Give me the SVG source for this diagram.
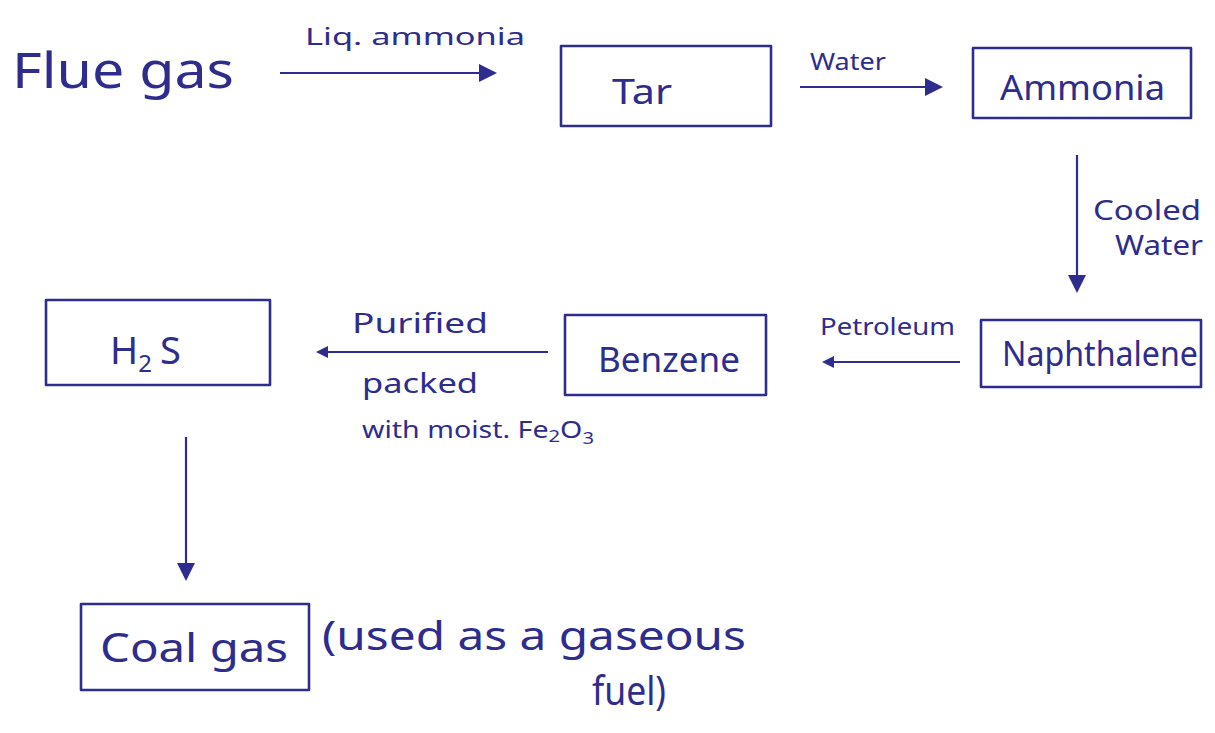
<svg xmlns="http://www.w3.org/2000/svg" width="1215" height="733" viewBox="0 0 1215 733">
<style>
  .bg{fill:#ffffff}
  .box{fill:none;stroke:#2e2c8c;stroke-width:2.6;stroke-linejoin:round}
  .ln{fill:none;stroke:#2e2c8c;stroke-width:2.2}
  .t{font-family:"Noto Sans","Liberation Sans",sans-serif;fill:#2e2c8c}
  .big{font-size:34px}
  .mid{font-size:28px}
  .sm{font-size:24px}
</style>
<defs>
  <marker id="ah" viewBox="0 0 12 12" refX="10" refY="6" markerWidth="12" markerHeight="12" markerUnits="userSpaceOnUse" orient="auto">
    <path d="M0,0 L12,6 L0,12 Z" fill="#2e2c8c"/>
  </marker>
  <marker id="ahb" viewBox="0 0 12 12" refX="10" refY="6" markerWidth="18" markerHeight="18" markerUnits="userSpaceOnUse" orient="auto">
    <path d="M0,0 L12,6 L0,12 Z" fill="#2e2c8c"/>
  </marker>
</defs>
<rect class="bg" x="0" y="0" width="1215" height="733"/>

<g id="connectors">
  <line class="ln" x1="280" y1="73" x2="494" y2="73" marker-end="url(#ahb)"/>
  <text class="t sm" x="305" y="45" textLength="220" lengthAdjust="spacingAndGlyphs">Liq. ammonia</text>
  <line class="ln" x1="800" y1="87" x2="940" y2="87" marker-end="url(#ahb)"/>
  <text class="t sm" x="810" y="70" textLength="76" lengthAdjust="spacingAndGlyphs">Water</text>
  <line class="ln" x1="1077" y1="155" x2="1077" y2="290" marker-end="url(#ahb)"/>
  <text class="t" font-size="27" x="1093" y="220" textLength="108" lengthAdjust="spacingAndGlyphs">Cooled</text>
  <text class="t" font-size="27" x="1115" y="255" textLength="88" lengthAdjust="spacingAndGlyphs">Water</text>
  <line class="ln" x1="960" y1="362" x2="824" y2="362" marker-end="url(#ah)"/>
  <text class="t sm" x="820" y="335" textLength="135" lengthAdjust="spacingAndGlyphs">Petroleum</text>
  <line class="ln" x1="548" y1="352" x2="318" y2="352" marker-end="url(#ah)"/>
  <text class="t mid" x="352" y="333" textLength="136" lengthAdjust="spacingAndGlyphs">Purified</text>
  <text class="t mid" x="362" y="393" textLength="116" lengthAdjust="spacingAndGlyphs">packed</text>
  <text class="t sm" x="362" y="438" textLength="232" lengthAdjust="spacingAndGlyphs">with moist. Fe<tspan font-size="17" dy="4">2</tspan><tspan dy="-4">O</tspan><tspan font-size="17" dy="6">3</tspan></text>
  <line class="ln" x1="186" y1="437" x2="186" y2="578" marker-end="url(#ahb)"/>
</g>

<g id="flue-gas">
  <text class="t" font-size="50" x="12" y="88" textLength="222" lengthAdjust="spacingAndGlyphs">Flue gas</text>
</g>

<g id="tar">
  <rect class="box" x="561" y="46" width="210" height="80"/>
  <text class="t big" x="612" y="104" textLength="60" lengthAdjust="spacingAndGlyphs">Tar</text>
</g>

<g id="ammonia">
  <rect class="box" x="973" y="48" width="218" height="70"/>
  <text class="t big" x="1000" y="100" textLength="165" lengthAdjust="spacingAndGlyphs">Ammonia</text>
</g>

<g id="naphthalene">
  <rect class="box" x="981" y="320" width="220" height="67"/>
  <text class="t big" x="1002" y="366" textLength="196" lengthAdjust="spacingAndGlyphs">Naphthalene</text>
</g>

<g id="benzene">
  <rect class="box" x="565" y="315" width="201" height="80"/>
  <text class="t big" x="598" y="372" textLength="142" lengthAdjust="spacingAndGlyphs">Benzene</text>
</g>

<g id="h2s">
  <rect class="box" x="46" y="300" width="224" height="85"/>
  <text class="t" font-size="38" x="110" y="364">H<tspan font-size="24" dy="8">2</tspan><tspan dy="-8" dx="8">S</tspan></text>
</g>

<g id="coal-gas">
  <rect class="box" x="81" y="604" width="228" height="86"/>
  <text class="t" font-size="40" x="100" y="662" textLength="188" lengthAdjust="spacingAndGlyphs">Coal gas</text>
  <text class="t" font-size="40" x="322" y="650" textLength="424" lengthAdjust="spacingAndGlyphs">(used as a gaseous</text>
  <text class="t" font-size="40" x="592" y="705" textLength="74" lengthAdjust="spacingAndGlyphs">fuel)</text>
</g>
</svg>
